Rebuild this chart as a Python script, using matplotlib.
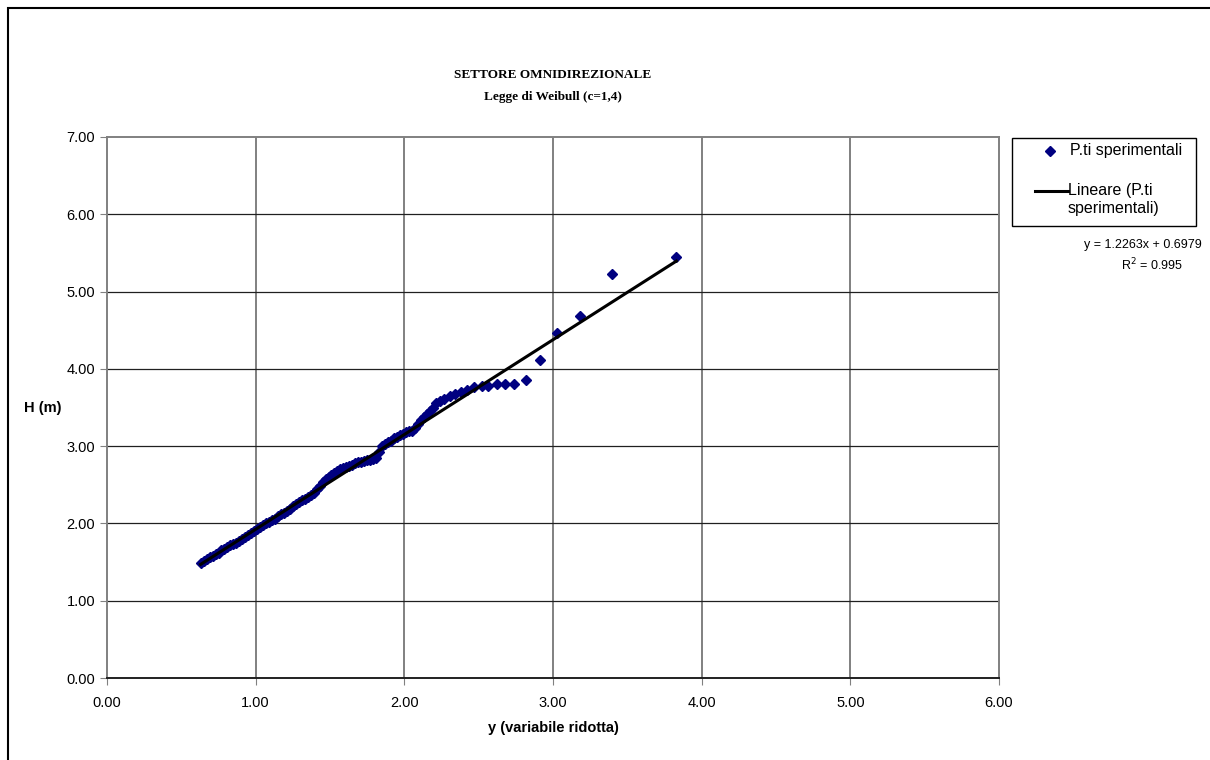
import matplotlib.pyplot as plt
from matplotlib.lines import Line2D
from matplotlib.patches import Rectangle

# reduced variate y (x axis) and wave height H (y axis)
y_rid = [0.63, 0.65, 0.67, 0.69, 0.71, 0.73, 0.75, 0.77, 0.79, 0.81,
         0.83, 0.85, 0.87, 0.89, 0.91, 0.93, 0.95, 0.97, 0.99, 1.01,
         1.03, 1.05, 1.07, 1.09, 1.11, 1.13, 1.15, 1.17, 1.19, 1.21,
         1.23, 1.25, 1.27, 1.29, 1.31, 1.33, 1.35, 1.37, 1.39, 1.41,
         1.43, 1.45, 1.47, 1.49, 1.51, 1.53, 1.55, 1.57, 1.59, 1.61,
         1.63, 1.65, 1.67, 1.69, 1.71, 1.73, 1.75, 1.77, 1.79, 1.81,
         1.83, 1.85, 1.87, 1.89, 1.91, 1.93, 1.95, 1.97, 1.99, 2.01,
         2.03, 2.05, 2.07, 2.09, 2.11, 2.13, 2.15, 2.17, 2.19, 2.21,
         2.24, 2.27, 2.31, 2.34, 2.38, 2.42, 2.47, 2.52, 2.56, 2.62,
         2.68, 2.74, 2.82, 2.91, 3.03, 3.18, 3.40, 3.83]
h_m = [1.49, 1.51, 1.54, 1.56, 1.58, 1.60, 1.62, 1.65, 1.67, 1.70,
       1.72, 1.74, 1.75, 1.77, 1.80, 1.83, 1.85, 1.87, 1.90, 1.93,
       1.95, 1.98, 2.00, 2.02, 2.04, 2.06, 2.09, 2.12, 2.14, 2.16,
       2.19, 2.22, 2.25, 2.28, 2.30, 2.32, 2.34, 2.37, 2.40, 2.45,
       2.49, 2.53, 2.57, 2.60, 2.63, 2.65, 2.68, 2.70, 2.72, 2.73,
       2.74, 2.76, 2.78, 2.80, 2.80, 2.81, 2.82, 2.82, 2.83, 2.85,
       2.93, 3.00, 3.03, 3.05, 3.07, 3.10, 3.12, 3.14, 3.16, 3.18,
       3.19, 3.20, 3.24, 3.29, 3.34, 3.38, 3.41, 3.45, 3.50, 3.56,
       3.58, 3.61, 3.65, 3.67, 3.70, 3.72, 3.77, 3.78, 3.78, 3.80,
       3.81, 3.81, 3.86, 4.11, 4.47, 4.69, 5.23, 5.45]

slope = 1.2263
intercept = 0.6979
r2 = 0.995

xticks = [0, 1, 2, 3, 4, 5, 6]
yticks = [0, 1, 2, 3, 4, 5, 6, 7]

W, H = 1210, 760
fig = plt.figure(figsize=(W / 100, H / 100), dpi=100)
plt.rcParams['font.family'] = ['Liberation Sans', 'DejaVu Sans']

ax = fig.add_axes([107 / W, 1 - 678 / H, (999 - 107) / W, (678 - 137) / H])

# trend line over the data range
x0, x1 = min(y_rid), max(y_rid)
ax.plot([x0, x1], [slope * x0 + intercept, slope * x1 + intercept],
        color='black', lw=2.2, zorder=3)
ax.plot(y_rid, h_m, linestyle='none', marker='D', markersize=4.6,
        color='#000080', zorder=2)

ax.set_xlim(0, 6)
ax.set_ylim(0, 7)
ax.set_xticks(xticks)
ax.set_yticks(yticks)
ax.set_xticklabels([f'{v:.2f}' for v in xticks])
ax.set_yticklabels([f'{v:.2f}' for v in yticks])
ax.tick_params(labelsize=10.5, length=5, direction='out', color='#808080')
ax.tick_params(axis='x', pad=8)

for v in xticks[1:-1]:
    ax.axvline(v, color='#808080', lw=1.4, zorder=1)
for v in yticks[1:-1]:
    ax.axhline(v, color='#202020', lw=0.9, zorder=1)

for s in ['top', 'right', 'left']:
    ax.spines[s].set_color('#808080')
    ax.spines[s].set_linewidth(1.4)
ax.spines['bottom'].set_color('#202020')
ax.spines['bottom'].set_linewidth(1.4)

ax.set_xlabel('y (variabile ridotta)', fontsize=10.5, fontweight='bold', labelpad=8)
fig.text(43 / W, 1 - 408 / H, 'H (m)', fontsize=10.5, fontweight='bold',
         ha='center', va='center')

fig.text(553 / W, 1 - 75 / H, 'SETTORE OMNIDIREZIONALE', family='Liberation Serif',
         fontsize=9.5, fontweight='bold', ha='center', va='center')
fig.text(553 / W, 1 - 97 / H, 'Legge di Weibull (c=1,4)', family='Liberation Serif',
         fontsize=9.5, fontweight='bold', ha='center', va='center')

# legend, laid out like the spreadsheet one
fig.patches.append(Rectangle((1012 / W, 1 - 226 / H), (1196 - 1012) / W, (226 - 138) / H,
                             transform=fig.transFigure, fill=False,
                             edgecolor='black', lw=1.0))
fig.lines.append(Line2D([1050 / W], [1 - 151 / H], transform=fig.transFigure,
                        linestyle='none', marker='D', markersize=4.6, color='#000080'))
fig.text(1070 / W, 1 - 151 / H, 'P.ti sperimentali', fontsize=11.5, va='center')
fig.lines.append(Line2D([1035 / W, 1068 / W], [1 - 191 / H, 1 - 191 / H],
                        transform=fig.transFigure, color='black', lw=2.2))
fig.text(1068 / W, 1 - 191 / H, 'Lineare (P.ti', fontsize=11.5, va='center')
fig.text(1068 / W, 1 - 208 / H, 'sperimentali)', fontsize=11.5, va='center')

fig.text(1143 / W, 1 - 245 / H, f'y = {slope}x + {intercept}', fontsize=9,
         ha='center', va='center')
fig.text(1152 / W, 1 - 265 / H, f'R$^2$ = {r2}', fontsize=9,
         ha='center', va='center')

# chart area border
fig.patches.append(Rectangle((8 / W, -0.01), 1.05, 1 - 8 / H + 0.01,
                             transform=fig.transFigure, fill=False,
                             edgecolor='black', lw=1.5))

fig.savefig('out.png', dpi=100)
